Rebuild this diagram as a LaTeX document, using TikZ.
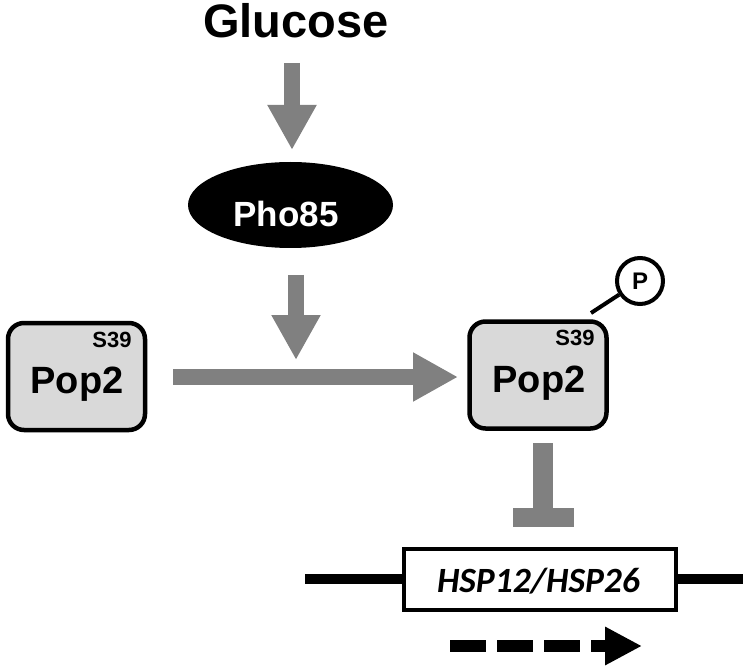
\documentclass[tikz,border=0pt]{standalone}
\usepackage{fontspec}
\setmainfont{Liberation Sans}
\newfontfamily\genefont{Carlito}
\usetikzlibrary{arrows.meta,shapes.geometric}
\definecolor{arrowgray}{HTML}{808080}
\definecolor{boxgray}{HTML}{D9D9D9}
\begin{document}
\begin{tikzpicture}[x=1pt,y=-1pt,
  blockarrow/.style={draw=arrowgray,line width=16pt,
    -{Triangle[width=46pt,length=45pt]},shorten >=0pt},
  popbox/.style={draw=black,line width=4.5pt,fill=boxgray,rounded corners=16pt,
    minimum width=137pt,minimum height=107pt,inner sep=0pt},
  bigtxt/.style={font=\bfseries\fontsize{38}{42}\selectfont,anchor=base,inner sep=0pt},
  smalltxt/.style={font=\bfseries\fontsize{22}{24}\selectfont,anchor=base,inner sep=0pt}
]
\useasboundingbox (0,0) rectangle (750,671);

% Glucose
\node[font=\bfseries\fontsize{47}{50}\selectfont,anchor=base,inner sep=0pt] (glc) at (296,38) {Glucose};
\coordinate (a1s) at (292,63);
\coordinate (a1e) at (292,150);
\draw[blockarrow] (a1s) -- (a1e);

% Pho85
\node[ellipse,fill=black,minimum width=205pt,minimum height=86pt,inner sep=0pt] (pho) at (290.5,205) {};
\node[font=\bfseries\fontsize{35}{38}\selectfont,text=white,anchor=base,inner sep=0pt] (photxt) at (286,227) {Pho85};
\coordinate (a2s) at (296,275);
\coordinate (a2e) at (296,360);
\draw[blockarrow] (a2s) -- (a2e);

% Pop2 boxes
\node[popbox] (popL) at (76.5,376.5) {};
\node[bigtxt] (popLt) at (77,393) {Pop2};
\node[smalltxt] (sL) at (112,347) {S39};

\node[popbox] (popR) at (538,375) {};
\node[bigtxt] (popRt) at (539,392) {Pop2};
\node[smalltxt] (sR) at (575,345) {S39};

% horizontal arrow
\coordinate (hs) at (173,377);
\coordinate (he) at (458,377);
\draw[blockarrow] (hs) -- (he);

% phosphate
\node[circle,draw=black,line width=4pt,fill=white,minimum size=46pt,inner sep=0pt,
  font=\bfseries\fontsize{24}{26}\selectfont] (P) at (640,281) {P};
\coordinate (pc) at (591,313);
\draw[line width=4pt] (pc) -- (P);

% inhibition
\coordinate (ts) at (543,443);
\coordinate (te) at (543,510);
\draw[arrowgray,line width=20pt] (ts) -- (te);
\coordinate (tbl) at (513,517.5);
\coordinate (tbr) at (574,517.5);
\draw[arrowgray,line width=19pt] (tbl) -- (tbr);

% gene
\coordinate (gl) at (305,579);
\coordinate (gr) at (743,579);
\draw[line width=10pt] (gl) -- (gr);
\node[draw=black,line width=4.5pt,fill=white,minimum width=272pt,minimum height=61pt,inner sep=0pt] (gene) at (540,579.5) {};
\node[font=\genefont\bfseries\itshape\fontsize{35.5}{40}\selectfont,anchor=base,inner sep=0pt] (genet) at (538.5,592) {HSP12/HSP26};

% dashed arrow
\coordinate (ds) at (450,646);
\coordinate (de) at (642,646);
\draw[line width=12pt,dash pattern=on 36pt off 11pt,
  -{Triangle[width=36pt,length=37pt]}] (ds) -- (de);
\end{tikzpicture}
\end{document}
